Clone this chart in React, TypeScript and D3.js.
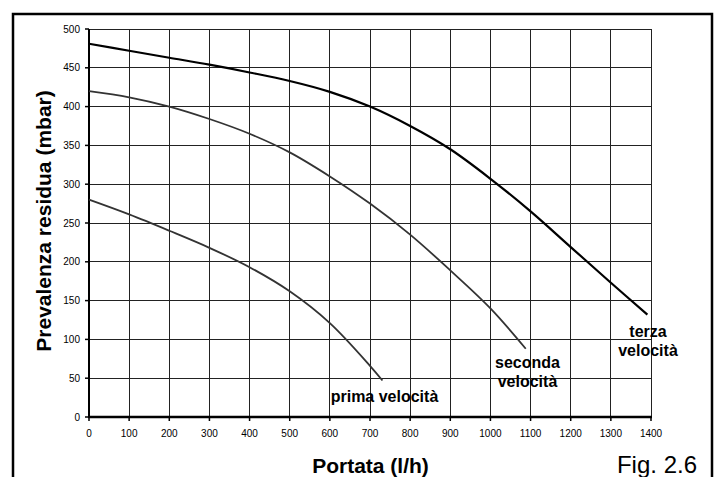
import React from 'react';
import * as d3 from 'd3';

// portata (l/h) / prevalenza (mbar)
const terzaX = [0, 100, 200, 300, 400, 500, 600, 700, 800, 900, 1000, 1100, 1200, 1300, 1391];
const terzaY = [481, 472, 463, 454, 444, 433, 419, 400, 375, 345, 307, 265, 219, 173, 132];
const secondaX = [0, 100, 200, 300, 400, 500, 600, 700, 800, 900, 1000, 1088];
const secondaY = [420, 412, 400, 384, 365, 341, 310, 275, 235, 189, 140, 88];
const primaX = [0, 100, 200, 300, 400, 500, 600, 700, 731];
const primaY = [280, 261, 240, 218, 193, 162, 121, 66, 47];

const xTicks = d3.range(0, 1401, 100);
const yTicks = d3.range(0, 501, 50);

const W = 717;
const H = 477;
const plot = { left: 89, right: 651, top: 29, bottom: 417 };

const FONT = 'Liberation Sans, Arial, Helvetica, sans-serif';

export default function App() {
  const x = d3.scaleLinear().domain([0, 1400]).range([plot.left, plot.right]);
  const y = d3.scaleLinear().domain([0, 500]).range([plot.bottom, plot.top]);

  const line = d3
    .line<[number, number]>()
    .x(d => x(d[0]))
    .y(d => y(d[1]))
    .curve(d3.curveCatmullRom.alpha(0.5));

  const zip = (xs: number[], ys: number[]) => xs.map((v, i) => [v, ys[i]] as [number, number]);

  const curves = [
    { pts: zip(terzaX, terzaY), color: '#000', w: 2.2 },
    { pts: zip(secondaX, secondaY), color: '#333', w: 1.8 },
    { pts: zip(primaX, primaY), color: '#333', w: 1.8 },
  ];

  return (
    <svg
      width={W}
      height={H}
      style={{ position: 'absolute', left: 0, top: 0, background: '#fff' }}
      fontFamily={FONT}
    >
      <rect x={0} y={0} width={W} height={H} fill="#fff" />
      {/* outer frame, open at the bottom */}
      <path d={`M13,${H} V14 H712 V${H}`} fill="none" stroke="#000" strokeWidth={2.5} />

      {/* grid */}
      <g stroke="#222" strokeWidth={1} shapeRendering="crispEdges">
        {yTicks.filter(t => t > 0).map(t => (
          <line key={'h' + t} x1={plot.left} x2={plot.right} y1={y(t)} y2={y(t)} />
        ))}
        {xTicks.filter(t => t > 0).map(t => (
          <line key={'v' + t} x1={x(t)} x2={x(t)} y1={plot.top} y2={plot.bottom} />
        ))}
      </g>

      {/* axes */}
      <line x1={plot.left} x2={plot.left} y1={plot.top} y2={plot.bottom + 1} stroke="#000" strokeWidth={2} />
      <line x1={plot.left - 1} x2={plot.right + 1} y1={plot.bottom} y2={plot.bottom} stroke="#000" strokeWidth={2.5} />
      <g stroke="#000" strokeWidth={1.5}>
        {yTicks.map(t => (
          <line key={'yt' + t} x1={plot.left - 4} x2={plot.left} y1={y(t)} y2={y(t)} />
        ))}
        {xTicks.map(t => (
          <line key={'xt' + t} x1={x(t)} x2={x(t)} y1={plot.bottom} y2={plot.bottom + 4} />
        ))}
      </g>
      <g fontSize={10} fill="#000">
        {yTicks.map(t => (
          <text key={'yl' + t} x={80} y={y(t) + 3.5} textAnchor="end">{t}</text>
        ))}
        {xTicks.map(t => (
          <text key={'xl' + t} x={x(t)} y={436.5} textAnchor="middle">{t}</text>
        ))}
      </g>

      {/* curves */}
      {curves.map((c, i) => (
        <path key={i} d={line(c.pts) || ''} fill="none" stroke={c.color} strokeWidth={c.w} />
      ))}

      {/* curve labels */}
      <g fontSize={16} fontWeight="bold" fill="#000" textAnchor="middle">
        <text x={384.5} y={401.5}>prima velocità</text>
        <text x={527.5} y={368.3}>seconda</text>
        <text x={527.5} y={387.3}>velocità</text>
        <text x={648} y={336.7}>terza</text>
        <text x={648} y={356}>velocità</text>
      </g>

      {/* titles */}
      <text x={370.5} y={473} fontSize={21} fontWeight="bold" textAnchor="middle">Portata (l/h)</text>
      <text
        transform={`translate(51,221) rotate(-90)`}
        fontSize={21}
        fontWeight="bold"
        textAnchor="middle"
      >
        Prevalenza residua (mbar)
      </text>
      <text x={697} y={473} fontSize={24} textAnchor="end">Fig. 2.6</text>
    </svg>
  );
}
